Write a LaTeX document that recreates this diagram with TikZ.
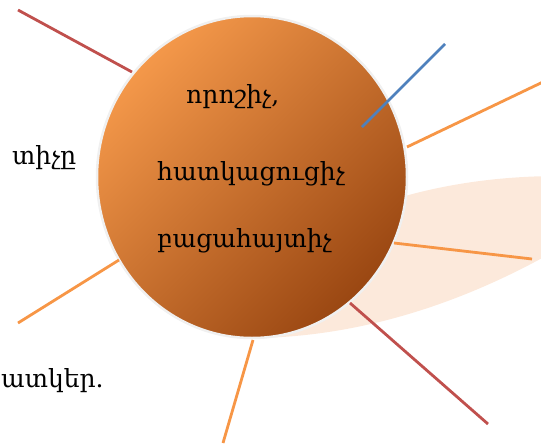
\documentclass[tikz,border=0pt]{standalone}
\usepackage{fontspec}
\usepackage{tikz}
\usetikzlibrary{shapes.geometric}
\setmainfont{DejaVu Serif}
\definecolor{OffRed}{HTML}{C0504D}
\definecolor{OffBlue}{HTML}{4F81BD}
\definecolor{OffOrange}{HTML}{F79646}
\definecolor{Peach}{HTML}{FCE9DB}
\definecolor{BallLight}{HTML}{F4984A}
\definecolor{BallDark}{HTML}{9A4712}
\begin{document}
\begin{tikzpicture}[x=1pt, y=-1pt]
  \tikzstyle{every node} = [inner sep = 0,
			    font = \fontsize{25}{25}\selectfont]
\tikzset{EdgeStyle/.style={line width = 2.8pt}}
\tikzset{BallStyle/.style={ellipse, minimum width = 310pt, minimum height = 322pt,
  draw = gray!12, line width = 2.5pt, shading = axis,
  top color = BallLight, bottom color = BallDark, shading angle = 45}}
\useasboundingbox (0,0) rectangle (541,445);
\fill[Peach] (240,338) .. controls (360,340) and (470,300) .. (560,248)
  -- (560,176) .. controls (480,176) and (410,190) .. (350,215) -- cycle;
\node[BallStyle] (C0) at (252,177) {};
\node[anchor = base west] (T1) at (186,103) {որոշիչ,};
\node[anchor = base west] (T2) at (157,180) {հատկացուցիչ};
\node[anchor = base west] (T3) at (157,247) {բացահայտիչ};
\node[anchor = base west] (L1) at (12,164) {տիչը};
\node[anchor = base west] (L2) at (1,387) {ատկեր.};
\coordinate (P1) at (18,10);    \coordinate (Q1) at (132,72);
\coordinate (P2) at (445,44);   \coordinate (Q2) at (362,127);
\coordinate (P3) at (545,81);   \coordinate (Q3) at (407,147);
\coordinate (P4) at (532,259);  \coordinate (Q4) at (394,243);
\coordinate (P5) at (488,424);  \coordinate (Q5) at (350,303);
\coordinate (P6) at (223,443);  \coordinate (Q6) at (253,340);
\coordinate (P7) at (18,323);   \coordinate (Q7) at (119,260);
\tikzstyle{EdgeStyle} = [line width = 2.8pt, color = OffRed]
\draw[EdgeStyle] (Q1) -- (P1);
\draw[EdgeStyle] (Q5) -- (P5);
\tikzstyle{EdgeStyle} = [line width = 2.8pt, color = OffBlue]
\draw[EdgeStyle] (Q2) -- (P2);
\tikzstyle{EdgeStyle} = [line width = 2.8pt, color = OffOrange]
\draw[EdgeStyle] (Q3) -- (P3);
\draw[EdgeStyle] (Q4) -- (P4);
\draw[EdgeStyle] (Q6) -- (P6);
\draw[EdgeStyle] (Q7) -- (P7);
\end{tikzpicture}
\end{document}
